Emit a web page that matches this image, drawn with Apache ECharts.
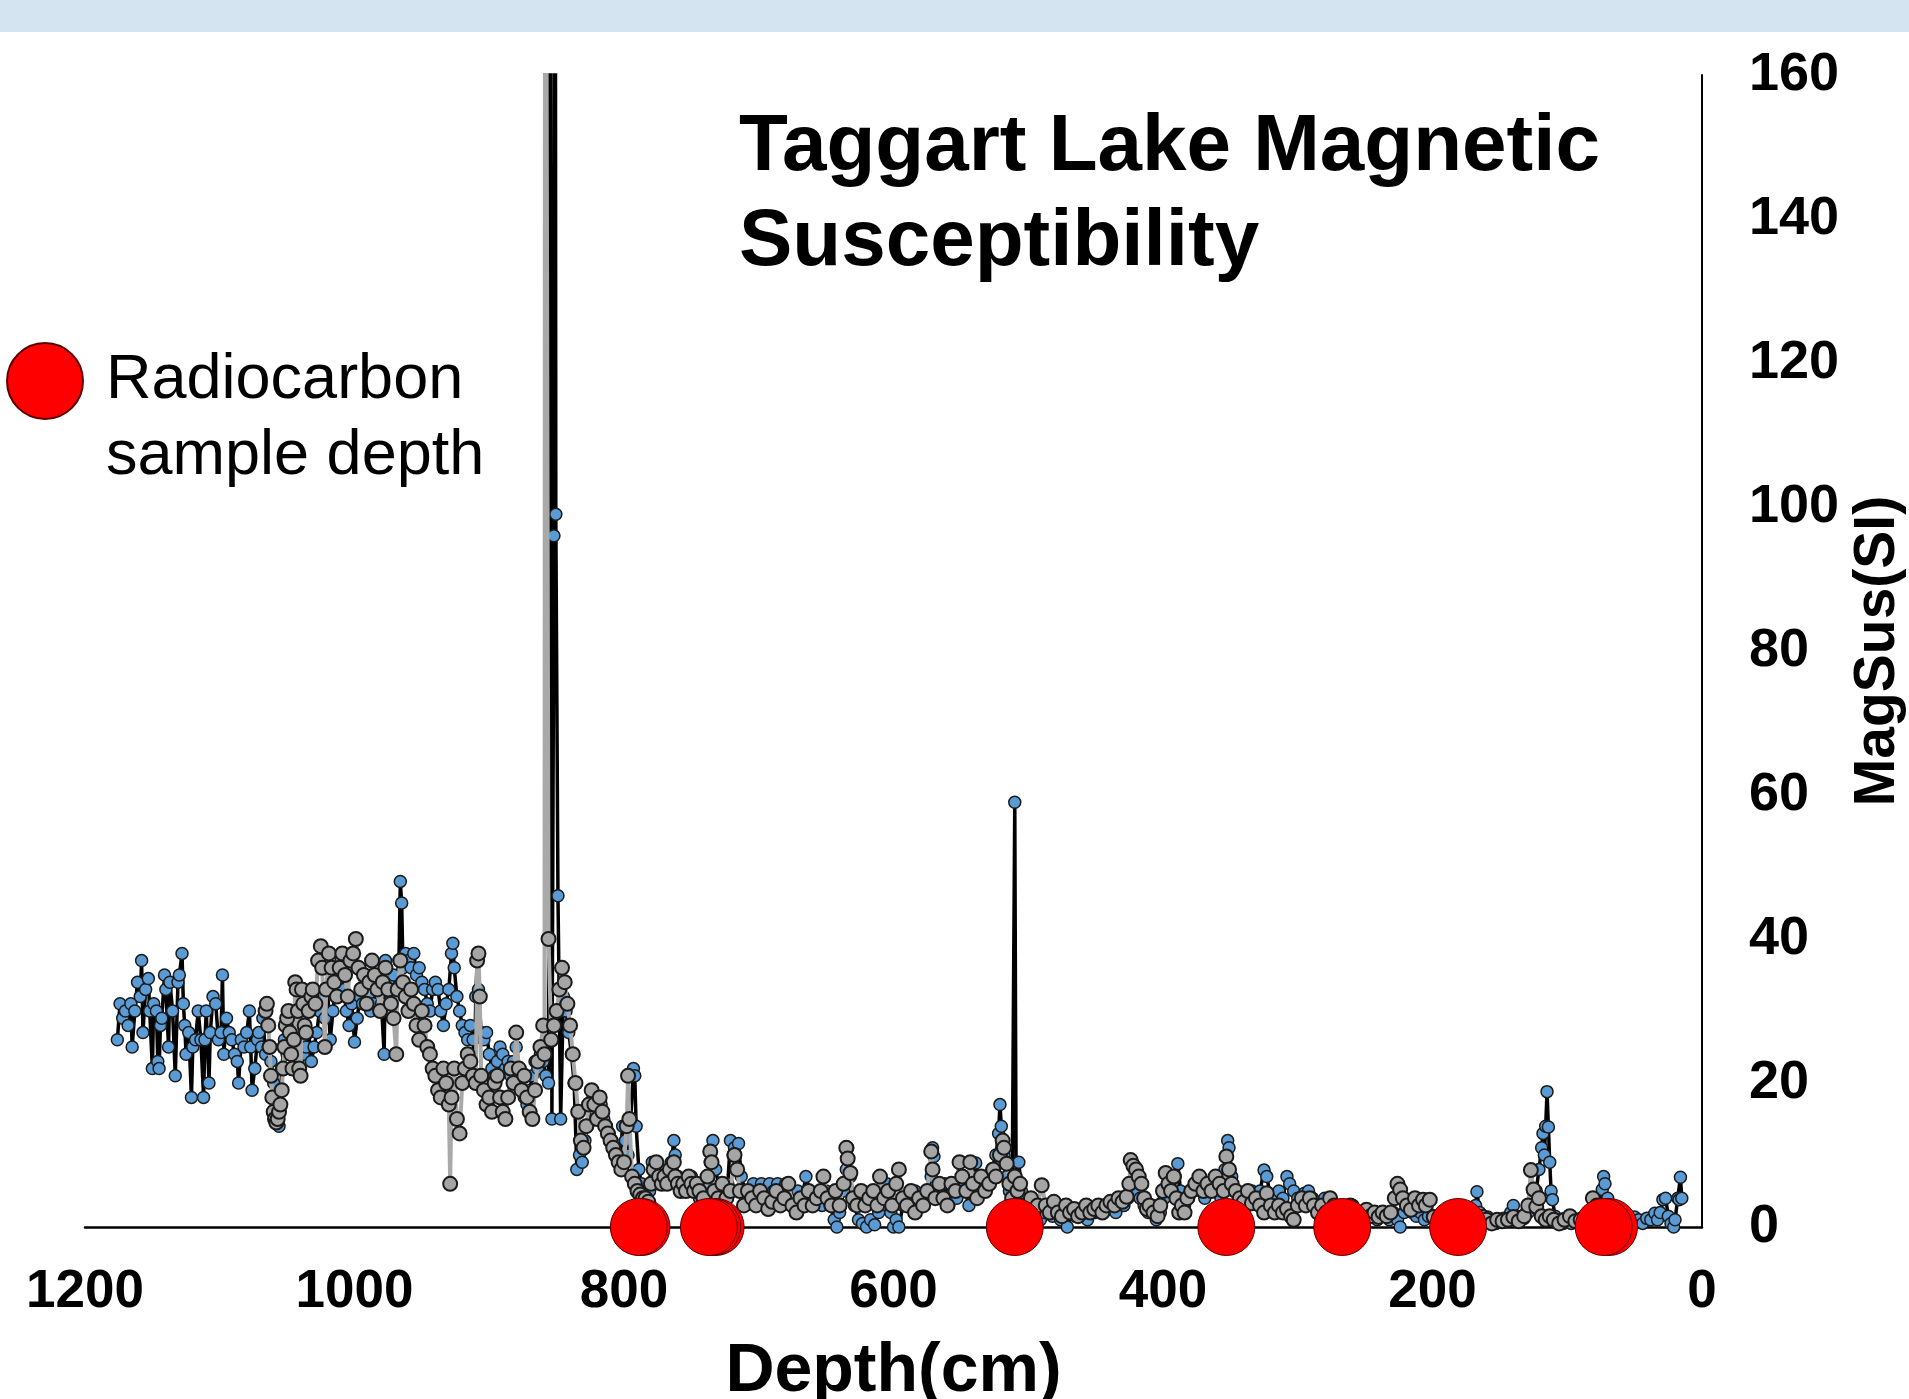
<!DOCTYPE html>
<html>
<head>
<meta charset="utf-8">
<script src="https://cdn.jsdelivr.net/npm/echarts@6/dist/echarts.min.js"></script>
<style>
html,body{margin:0;padding:0;background:#fff;}
#chart{width:1909px;height:1399px;}
</style>
</head>
<body>
<div id="chart"></div>
<script>
// Tick labels
const xTicks = [0, 200, 400, 600, 800, 1000, 1200];
const yTicks = [0, 20, 40, 60, 80, 100, 120, 140, 160];

// Series 1 (blue points, black line): [depth cm, MagSus]
const blueData = [
[1176,26],[1174,31],[1172,29],[1170,30],[1168,28],[1166,31],[1165,25],[1163,30],[1161,34],[1159,32],[1158,37],[1157,27],[1155,33],[1153,34.5],[1152,30],[1150,22],[1149,31],[1147,30],[1146,23],[1145,22],[1144,28],[1143,29],[1141,35],[1140,33],[1138,25],[1137,34],[1135,30],[1133,21],[1131,34],[1130,35],[1128,38],[1127,31],[1126,28],[1125,24],[1123,27],[1121,18],[1120,25],[1118,26],[1116,30],[1114,26],[1112,18],[1111,26],[1110,30],[1108,20],[1107,27],[1105,32],[1103,31],[1101,26],[1099,27],[1098,35],[1097,24],[1095,29],[1093,27],[1091,26],[1089,24],[1087,23],[1086,20],[1084,26],[1082,25],[1080,27],[1078,30],[1077,25],[1076,19],[1074,22],[1072,26],[1071,27],[1069,25],[1068,29],[1066,24],[1064,25],[1062,23],[1060,20],[1058,17],[1056,14],[1054,22],[1052,26],[1050,24],[1048,27],[1046,26],[1044,25],[1042,23],
[1040,26],[1038,24],[1036,25],[1034,27],[1032,23],[1030,25],[1028,27],[1026,30],[1024,32],[1022,29],[1020,33],[1018,26],[1016,30],[1014,33],[1012,35],[1010,37],[1008,33],[1006,30],[1004,28],[1002,31],[1000,25.7],[998,29],[996,32],[994,31],[992,34],[990,32],[988,30],[986,31],[984,33],[982,35],[980,31],[978,24],[977,37],[975,34],[973,32],[971,35],[969,33],[967,37],[966,48],[965,45],[964,36],[962,38],[960,37],[958,36],[956,38],[954,35],[952,36],[950,34],[948,33],[946,31],[944,30],[942,33],[940,34],[938,33],[936,30],[934,28],[932,31],[930,33],[928,38],[927,39.4],[926,36],[924,32],[922,30],[920,28],[918,27],[916,26],[914,28],[912,26],[911,21],[910,32],[909,37],[908,33],[906,27],[904,26],[902,27],[900,24],[898,22],[896,21],[894,23],[892,25],[890,24],[888,22],[886,23],[884,21],[882,23],[880,25],[878,22],[876,21],[874,18],[872,17],[870,19],[868,21],[866,23],[864,22],[862,24],[860,23],[858,21],[856,20],[855,250],[853.5,15],[852,96],[851.2,250],[850.6,99],[849,46],[847,15],[845,32],[843,30],[841,27],[839,24],[837,20],[835,8],[833,10],[831,9],[829,12],[827,14],[825,17],[823,18],[821,16],[819,15],[817,17],[815,15],[813,14],[811,13],[809,12],[807,11],[805,10],[803,9.5],[801,14],[799,12],[797,10],[795,15],[793,22],[792,21],[791,14],[789,8],[787,6],[785,5],[783,4],[781,5],[779,9],[777,7],[775,6],[773,8],[771,7],[769,6],[767,7],[765,9],[763,12],[762,10],[760,7],[758,6],[756,5],[754,6],[752,5],[750,7],[748,6],[746,5],
[744,4],[741,5],[738,6],[736,9],[734,12],[732,8],[729,5],[726,4],[723,6],[721,12],[719,10],[718,11],[715,11.6],[713,7],[710,5],[707,4],[704,6],[701,5],[698,6],[695,4],[692,6],[689,5],[686,6],[683,5],[680,6],[677,4],[674,3],[671,5],[668,4],[665,7],[662,5],[659,3],[656,4],[653,3],[650,5],[647,3],[644,1],[642,0],[640,2],[637,5],[635,8],[634,11],[632,7],[629,3],[626,1],[623,0.5],[620,0],[617,1],[614,0.3],[611,2],[608,4],[605,6],[602,2],[600,0],[598,1],[596,0],[593,3],[590,4],[587,3],[584,5],[581,4],[578,3],[575,5],[572,7],[571,11],[570,9.8],[568,5],[565,4],[562,6],[559,3],[556,5],[553,4],[550,6],[547,5],[544,3],[541,7],[539,8.9],[536,6],[533,5],[530,7],[527,8],[524,10],[522,13],[521,17],[520,14],[518,10],[516,7],[514,5],[512,3],[510,59],[509,6],[507,9],[505,5],[503,3],[500,1],[497,2],[494,3],[491,1],[488,2],[485,3],[482,1.5],[479,2],[476,1],[473,2],[471,0],[468,2],[465,1.5],[462,2.5],[459,2],[456,1],[453,2.5],[450,2],[447,3],[444,2],[441,2.5],[438,3],[435,2],[432,3.5],[429,3],[426,4],[423,6],[420,5],[417,4],[414,3],[411,2],[408,3],[405,1],[402,2],[399,4],[396,5],[393,6],[391,7],[389,8.8],[387,5],[384,3],[381,4],[378,5],[375,6],[372,5],[369,4],[366,6],[363,5],[360,6],[357,4],[354,8],[352,12],[351,11],[349,7],[346,5],[343,3],[340,4],[337,3],[334,5],[331,4],[328,5],[325,7.9],[323,7],[320,4],[317,3],[314,5],[311,4],[308,7],[306,6],[303,5],[300,4],[297,3],[295,4.7],[292,5],[289,4],[286,3],[283,2],[280,4],[277,3],[274,2],[271,3],[268,2],[265,1.5],[262,2],[259,3],[256,2],[253,1.5],[250,2],[247,1.5],[244,2],[241,1],[238,2],[235,1.5],[232,1],[229,2],[226,1],[224,0],[221,2],[218,3],[215,2],[212,1.5],[209,2],[206,1],[203,1.5],[200,1.4],[197,1],[194,1.5],[191,1],[188,1.4],[185,1.2],[182,1.4],[179,1],[176,1.5],[173,1.2],[170,2],[168,3],[167,4.9],[165,2],[162,1],[159,1.4],[156,1],[153,0.5],[150,1],[147,1.2],[144,1],[142,2],[140,3],[138,1.5],[135,1],[132,1.2],[129,2],[126,3],[123,5],[121,8],[119,11],[118,13],[117,10],[116,14],[115,18.8],[114,13.9],[113,9],[112,5],[111,3.8],[109,1.5],[106,1],[103,0.5],[100,1],[97,0.5],[94,1],[91,0.8],[88,1],[85,1.5],[82,1],[79,2],[76,3],[74,5.2],[73,7],[72,6],[70,4],[68,2],[65,1],[62,0.8],[59,1],[56,1.2],[53,1],[50,1.4],[47,1],[44,0.5],[41,1.2],[38,1],[35,1.9],[33,1],[31,2],[29,3.8],[27,4],[25,1.5],[23,0.5],[21,0],[20,1],[18,4],[17,3.8],[16,6.9],[15,4]
];

// Series 2 (grey points, grey line): [depth cm, MagSus]
const greyData = [
[1066,30],[1065,31],[1064,28],[1063,25],[1062,21],[1061,18],[1060,16],[1059,15],[1058,14.5],[1057,15],[1056,16],[1055,17],[1054,19],[1053,22],[1052,25],[1051,28],[1050,29],[1049,30],[1048,27],[1047,24],[1046,22],[1045,26],[1044,34],[1043,33],[1042,30],[1041,22],[1040,21],[1039,33],[1038,31],[1037,28],[1036,27],[1034,30],[1032,32],[1031,33],[1029,31],[1027,37],[1025,39],[1024,36],[1022,25],[1021,33],[1019,38],[1017,36],[1015,34],[1013,32],[1011,36],[1009,38],[1007,35],[1005,32],[1003,37],[1001,38],[999,40],[997,36],[995,33],[993,35],[991,31],[989,34],[987,37],[985,35],[983,33],[981,30],[979,34],[977,36],[975,33],[973,31],[971,29],[969,24],[968,33],[966,37],[964,34],[962,32],[960,30],[958,33],[956,31],[954,28],[952,26],[950,30],[948,28],[946,25],[944,24],[942,22],[940,21],[938,19],[936,18],[934,22],[932,20],[930,17],[929,6],[928,18],[926,22],[924,15],[922,13],[920,20],[918,22],[916,24],[914,23],[912,21],[910,20],[909,37],[908,38],[907,32],[906,21],[904,19],[902,17],[900,18],[898,16],[896,20],[894,21],[892,18],[890,16],[888,15],[886,18],[884,22],[882,20],[880,27],[878,22],[876,19],[874,21],[872,18],[870,16],[868,15],[866,19],[864,23],[862,25],[860,28],[859,24],[858.5,250],[856,40],[854,26],[852,28],[850,30],[848,33],[846,36],[844,34],[842,31],[840,28],[838,24],[836,20],[834,16],[832,12],[830,11],[828,14],[826,17],[824,19],[822,17],[820,15],[818,18],[816,16],[814,14],[812,13],[810,12],[808,11],[806,10],[804,9],[802,8],[800,9],[798,14],[797,21],[796,15],[794,7],[792,6],[790,5],[788,4.5],[786,4],[784,4],[782,3.5],[780,6],[778,8],[776,9],[774,7],[772,6],[770,7],[768,6],[766,8],[763,9],[762,7],[760,6],[758,5],[756,6],[754,5],[752,7],[750,6],[748,5],[746,6],
[744,5],[741,4],[738,7],[736,10.5],[735,9],[733,5],[730,4],[727,6],[724,4],[721,5],[718,10],[716,8],[714,5],[711,3],[708,5],[705,4],[702,3],[699,5],[696,4],[693,2.5],[690,3.5],[687,5],[684,3],[681,4],[678,6],[675,3],[672,2],[669,4],[666,3],[663,5],[660,3],[657,4],[654,5],[652,7],[649,4],[646,3],[643,5],[640,3],[637,6],[635,11],[634,9.5],[632,7.5],[630,4],[627,3],[624,5],[621,3],[618,4],[615,5],[612,3],[610,7],[607,4],[604,5],[601,3],[598,6],[596,8],[593,4],[590,3],[587,5],[584,2],[581,4],[578,3],[575,5],[572,10.5],[571,8],[569,4],[566,6],[563,4],[560,3],[557,6],[554,5],[551,9],[549,7],[546,5],[543,9],[541,6],[538,4],[535,7],[532,5],[529,6],[526,8],[524,7],[521,10],[519,12],[518,11],[516,8.8],[514,6],[512,4],[510,7],[508,5],[506,6],[504,3],[501,2],[498,4],[496,2],[493,3],[490,5.8],[487,3],[484,2],[481,3.5],[478,2],[475,1.5],[472,3],[469,2],[466,2.5],[463,1.5],[460,2],[457,3],[454,2],[451,2.5],[448,3],[445,2],[442,3],[439,3.5],[436,3],[433,4],[430,3.5],[427,4.2],[425,6],[424,9.3],[422,8.5],[420,8],[418,7],[416,6],[414,4],[412,2.5],[410,3],[407,2],[404,1.5],[402,3],[400,5],[398,7.5],[396,6],[394,5],[392,7],[390,4],[388,2],[386,3],[384,2],[382,4],[379,5],[376,6],[373,7],[370,5],[367,6],[364,5],[361,7],[358,6],[355,5],[353,9.8],[351,8],[349,6],[346,5],[343,4],[340,3.5],[337,5],[334,3.3],[331,4],[328,3],[325,2],[323,4.7],[320,3],[317,2],[314,3],[311,2],[308,2.5],[305,1.5],[303,1],[300,3],[297,4],[294,3],[291,4],[288,3],[285,2],[282,3],[279,2],[276,4],[273,3],[270,2],[267,2.5],[264,2],[261,3],[258,2],[255,1.5],[252,2],[249,2.4],[246,1.5],[243,2],[240,1.4],[237,2],[234,1.5],[231,2],[228,4],[226,6],[224,5.2],[222,4],[219,3],[216,2.4],[213,4],[210,3],[207,3.8],[205,3],[202,3.8],[199,1.4],[195,1.4],[191,1],[187,1.4],[183,1.2],[179,1.4],[175,1],[171,1.4],[167,1.2],[163,1.4],[160,1],[156,0.5],[152,1],[148,0.8],[144,1],[140,1.4],[136,0.8],[132,1.5],[129,3],[127,7.9],[125,5.2],[123,2.8],[121,4],[119,1.5],[116,1],[113,1.5],[110,1],[106,0.5],[102,1],[98,1.5],[94,0.8],[90,1],[86,1.5],[83,2],[81,4],[78,3],[75,2],[72,1]
];

// Radiocarbon sample depths (cm), plotted at MagSus = 0
const radiocarbonDepths = [69, 73, 181, 267, 353, 510, 732, 734.5, 737, 787, 789];

const chart = echarts.init(document.getElementById('chart'), null, {renderer: 'canvas'});
const FONT = '"Liberation Sans", Arial, sans-serif';

chart.setOption({
  animation: false,
  backgroundColor: '#ffffff',
  graphic: [{
    type: 'rect', left: 0, top: 0, z: -10,
    shape: {width: 1909, height: 32},
    style: {fill: '#d5e4f1'}
  }],
  title: {
    text: 'Taggart Lake Magnetic\nSusceptibility',
    left: 739, top: 100, padding: 0,
    textStyle: {fontFamily: FONT, fontWeight: 'bold', fontSize: 80, lineHeight: 95, color: '#000'}
  },
  legend: {
    data: ['Radiocarbon sample depth'],
    left: 1, top: 262, padding: 5,
    icon: 'circle', itemWidth: 76, itemHeight: 76,
    formatter: function () { return '\nRadiocarbon\nsample depth'; },
    textStyle: {fontFamily: FONT, fontSize: 63, lineHeight: 76, color: '#000', padding: [0, 0, 0, 18]},
    selectedMode: false
  },
  grid: {left: 85, right: 207, top: 75, bottom: 172, containLabel: false, outerBoundsMode: 'none'},
  xAxis: {
    type: 'value', inverse: true, min: 0, max: 1200, interval: 200,
    name: 'Depth(cm)', nameLocation: 'middle', nameGap: 111,
    nameTextStyle: {fontFamily: FONT, fontWeight: 'bold', fontSize: 68, color: '#000'},
    axisLine: {show: true, lineStyle: {color: '#000', width: 2.5}},
    axisTick: {show: false}, splitLine: {show: false},
    axisLabel: {fontFamily: FONT, fontWeight: 'bold', fontSize: 53, color: '#000', margin: 39,
      formatter: function (v) { return xTicks.indexOf(v) >= 0 ? String(v) : ''; }}
  },
  yAxis: {
    type: 'value', position: 'right', min: 0, max: 160, interval: 20,
    name: 'MagSus(SI)', nameLocation: 'middle', nameGap: 148, nameRotate: 90,
    nameTextStyle: {fontFamily: FONT, fontWeight: 'bold', fontSize: 57, color: '#000'},
    axisLine: {show: true, lineStyle: {color: '#000', width: 2}},
    axisTick: {show: false}, splitLine: {show: false},
    axisLabel: {fontFamily: FONT, fontWeight: 'bold', fontSize: 54, color: '#000', margin: 47,
      formatter: function (v) { return yTicks.indexOf(v) >= 0 ? String(v) : ''; }}
  },
  series: [
    {
      name: 'MagSus A', type: 'line', data: blueData, z: 2,
      symbol: 'circle', symbolSize: 12, showSymbol: true, showAllSymbol: true,
      lineStyle: {color: '#000', width: 3.5},
      itemStyle: {color: '#5b9bd5', borderColor: '#1a1a1a', borderWidth: 1.5},
      emphasis: {disabled: true}
    },
    {
      name: 'MagSus B', type: 'line', data: greyData, z: 3,
      symbol: 'circle', symbolSize: 14, showSymbol: true, showAllSymbol: true,
      lineStyle: {color: '#a9a9a9', width: 4},
      itemStyle: {color: '#a5a5a5', borderColor: '#1a1a1a', borderWidth: 2},
      emphasis: {disabled: true}
    },
    {
      name: 'Radiocarbon sample depth', type: 'scatter', z: 5, clip: false,
      data: radiocarbonDepths.map(function (d) { return [d, 0]; }),
      symbol: 'circle', symbolSize: 57,
      itemStyle: {color: '#ff0000', borderColor: '#5a0000', borderWidth: 1, opacity: 1},
      emphasis: {disabled: true}
    }
  ]
});
</script>
</body>
</html>
